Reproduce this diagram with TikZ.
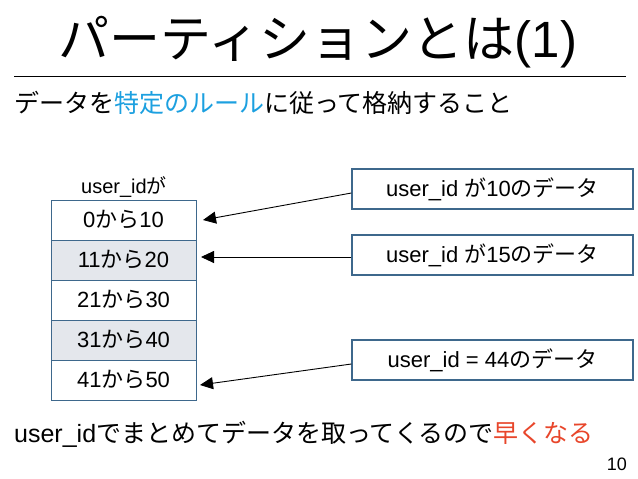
\documentclass[tikz,border=0pt]{standalone}
\usepackage{fontspec}
\setmainfont{Noto Sans CJK JP}
\newfontfamily\lat{Liberation Sans}
\usetikzlibrary{arrows.meta}
\definecolor{boxline}{RGB}{62,104,140}
\definecolor{rowgrey}{RGB}{228,231,236}
\definecolor{hlblue}{RGB}{28,160,224}
\definecolor{hlred}{RGB}{232,70,43}
\tikzset{
  row/.style={draw=boxline, line width=1pt, minimum width=145pt, minimum height=40pt, inner sep=0pt, font=\fontsize{22}{22}\selectfont},
  rowshade/.style={row, fill=rowgrey},
  databox/.style={draw=boxline, line width=1.2pt, minimum width=281pt, minimum height=40pt, inner sep=0pt, font=\fontsize{22}{22}\selectfont},
  arr/.style={line width=0.9pt, -{Triangle[length=13pt,width=12pt]}},
}
\begin{document}
\begin{tikzpicture}[x=1pt,y=-1pt]
\useasboundingbox[fill=white] (0,0) rectangle (638,479);
\node (title) at (318,42) {\fontsize{51}{51}\selectfont パーティションとは{\lat (1)}};
\coordinate (l1) at (14,76);
\coordinate (l2) at (626,76);
\draw[line width=0.8pt] (l1) -- (l2);
\node[anchor=west, inner sep=0pt] (sub) at (14,103) {\fontsize{25}{25}\selectfont データを\textcolor{hlblue}{特定のルール}に従って格納すること};
\node (lab) at (124,187) {\fontsize{20}{20}\selectfont {\lat user\_id}が};
\node[row] (r1) at (123.5,220) {{\lat 0}から{\lat 10}};
\node[rowshade] (r2) at (123.5,260) {{\lat 11}から{\lat 20}};
\node[row] (r3) at (123.5,300) {{\lat 21}から{\lat 30}};
\node[rowshade] (r4) at (123.5,340) {{\lat 31}から{\lat 40}};
\node[row] (r5) at (123.5,380) {{\lat 41}から{\lat 50}};
\node[databox] (b1) at (492.5,189) {{\lat user\_id }が{\lat 10}のデータ};
\node[databox] (b2) at (492.5,255) {{\lat user\_id }が{\lat 15}のデータ};
\node[databox] (b3) at (492.5,360) {{\lat user\_id = 44}のデータ};
\coordinate (t1) at (203,220);
\coordinate (t2) at (201,257);
\coordinate (t3) at (200,385);
\draw[arr] ([yshift=-4pt]b1.west) -- (t1);
\draw[arr] ([yshift=-2pt]b2.west) -- (t2);
\draw[arr] ([yshift=-4pt]b3.west) -- (t3);
\node[anchor=west, inner sep=0pt] (bottom) at (14,434) {\fontsize{25}{25}\selectfont {\lat user\_id}でまとめてデータを取ってくるので\textcolor{hlred}{早くなる}};
\node[anchor=east, inner sep=0pt] (page) at (627,464) {\fontsize{18}{18}\selectfont\lat 10};
\end{tikzpicture}
\end{document}
